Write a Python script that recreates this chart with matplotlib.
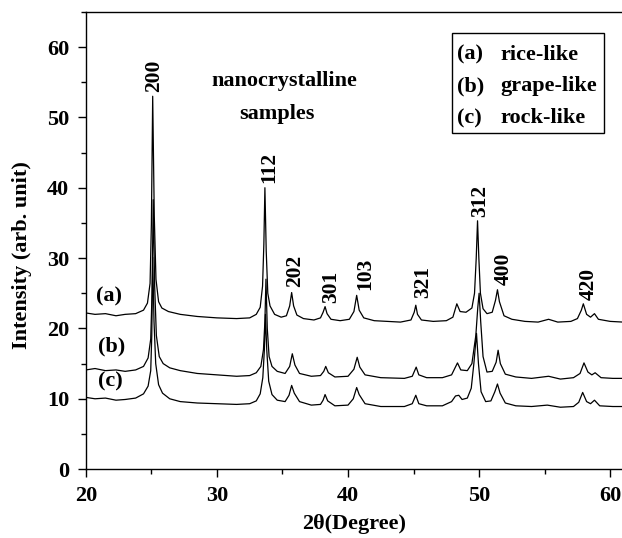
import matplotlib
matplotlib.use('Agg')
import matplotlib.pyplot as plt
from matplotlib.ticker import MultipleLocator
from matplotlib.patches import Rectangle

plt.rcParams['font.family'] = ['Liberation Serif', 'DejaVu Serif']
plt.rcParams['font.weight'] = 'bold'

# curve (a) rice-like
theta_a = [20.0, 20.7, 21.5, 22.3, 23.0, 23.8, 24.4, 24.7, 24.9, 25.0, 25.1, 25.22, 25.35, 25.55, 25.8,
           26.3, 27.2, 28.5, 30.0, 31.5, 32.5, 33.0, 33.3, 33.48, 33.58, 33.66, 33.76, 33.88, 34.05,
           34.4, 34.9, 35.3, 35.55, 35.7, 35.85, 36.1, 36.6, 37.4, 37.9, 38.1, 38.25, 38.4, 38.7,
           39.4, 40.1, 40.45, 40.66, 40.85, 41.2, 42.0, 43.0, 44.0, 44.8, 45.05, 45.17, 45.3, 45.6,
           46.5, 47.5, 48.0, 48.3, 48.55, 49.0, 49.45, 49.65, 49.78, 49.88, 49.98, 50.1, 50.3, 50.6,
           51.0, 51.25, 51.4, 51.55, 51.9, 52.5, 53.5, 54.5, 55.3, 56.0, 57.0, 57.5, 57.8, 57.95,
           58.2, 58.5, 58.8, 59.1, 60.0, 61.0]
int_a = [22.2, 22.0, 22.1, 21.8, 22.0, 22.1, 22.6, 23.6, 26.4, 34.8, 53.0, 36, 27, 23.8, 22.9,
         22.4, 22.0, 21.7, 21.5, 21.4, 21.5, 22.0, 23.0, 26, 32, 40, 31, 25, 23.2,
         22.0, 21.6, 21.8, 23.2, 25.1, 23.2, 21.9, 21.4, 21.2, 21.5, 22.3, 23.1, 22.1, 21.3,
         21.1, 21.3, 22.4, 24.7, 22.6, 21.5, 21.1, 21.0, 20.9, 21.2, 22.3, 23.3, 22.0, 21.2,
         21.0, 21.1, 21.6, 23.5, 22.4, 22.3, 22.9, 25, 30, 35.3, 30, 25, 22.8, 22.1,
         22.3, 24, 25.5, 23.8, 21.8, 21.3, 21.0, 20.9, 21.3, 20.9, 21.0, 21.4, 22.6, 23.5,
         22.0, 21.6, 22.1, 21.3, 21.0, 20.9]

# curve (b) grape-like
theta_b = [20.0, 20.7, 21.5, 22.3, 23.0, 23.8, 24.4, 24.75, 24.95, 25.05, 25.14, 25.25, 25.38, 25.6,
           25.9, 26.4, 27.2, 28.5, 30.0, 31.5, 32.5, 33.0, 33.35, 33.55, 33.66, 33.74, 33.84, 33.98,
           34.2, 34.6, 35.2, 35.55, 35.75, 35.95, 36.3, 37.2, 37.9, 38.15, 38.3, 38.5, 39.0, 40.0,
           40.45, 40.7, 40.9, 41.3, 42.5, 44.3, 44.9, 45.2, 45.4, 46.0, 47.2, 47.9, 48.35, 48.6,
           49.1, 49.45, 49.75, 49.9, 50.0, 50.12, 50.3, 50.6, 51.0, 51.3, 51.45, 51.62, 52.0, 52.8,
           54.0, 55.3, 56.2, 57.2, 57.7, 58.0, 58.3, 58.6, 58.85, 59.3, 60.2, 61.0]
int_b = [14.1, 14.3, 14.0, 14.1, 13.9, 14.1, 14.6, 15.8, 18.5, 25, 38.3, 26, 19, 16,
         15.0, 14.4, 14.0, 13.6, 13.4, 13.2, 13.3, 13.7, 14.6, 17, 21, 27, 20, 16,
         14.6, 13.9, 13.6, 14.6, 16.4, 14.8, 13.6, 13.2, 13.3, 13.9, 14.6, 13.7, 13.1, 13.2,
         14.2, 15.9, 14.5, 13.4, 13.0, 12.9, 13.2, 14.5, 13.4, 13.0, 13.0, 13.4, 15.1, 14.1,
         14.0, 15, 19, 23, 25.0, 21, 16, 13.8, 13.9, 15.2, 16.9, 15, 13.5, 13.1,
         12.9, 13.2, 12.8, 13.0, 13.6, 15.1, 13.8, 13.4, 13.7, 13.0, 12.9, 12.9]

# curve (c) rock-like
theta_c = [20.0, 20.7, 21.5, 22.3, 23.0, 23.8, 24.4, 24.75, 24.95, 25.03, 25.1, 25.2, 25.33, 25.55,
           25.85, 26.4, 27.2, 28.5, 30.0, 31.5, 32.5, 33.0, 33.3, 33.5, 33.62, 33.7, 33.8, 33.95,
           34.2, 34.6, 35.2, 35.5, 35.7, 35.9, 36.3, 37.2, 37.9, 38.1, 38.25, 38.45, 39.0, 40.0,
           40.4, 40.66, 40.85, 41.3, 42.5, 44.3, 44.9, 45.17, 45.4, 46.0, 47.2, 47.9, 48.2, 48.45,
           48.7, 49.1, 49.4, 49.6, 49.8, 49.95, 50.15, 50.5, 50.9, 51.2, 51.4, 51.6, 52.0, 52.8,
           54.0, 55.2, 56.2, 57.2, 57.6, 57.9, 58.2, 58.5, 58.8, 59.2, 60.2, 61.0]
int_c = [10.2, 10.0, 10.1, 9.8, 9.9, 10.1, 10.7, 11.8, 14, 19, 30.1, 21, 15, 12,
         10.8, 10.0, 9.6, 9.4, 9.3, 9.2, 9.3, 9.7, 10.7, 13, 17, 22, 17, 12.5,
         10.6, 9.8, 9.6, 10.5, 11.9, 10.8, 9.6, 9.1, 9.2, 9.8, 10.6, 9.7, 9.0, 9.1,
         10.0, 11.6, 10.6, 9.3, 8.9, 8.9, 9.3, 10.5, 9.3, 9.0, 9.0, 9.6, 10.4, 10.5,
         9.9, 10.1, 11.5, 15, 19.3, 15, 11, 9.6, 9.7, 11.0, 12.1, 10.8, 9.4, 9.0,
         8.9, 9.1, 8.8, 8.9, 9.5, 10.9, 9.6, 9.3, 9.8, 9.0, 8.9, 8.9]

# peak labels (hkl)
hkl = ['200', '112', '202', '301', '103', '321', '312', '400', '420']
hkl_x = [25.2, 34.0, 36.0, 38.7, 41.35, 45.75, 50.05, 51.85, 58.4]
hkl_y = [53.6, 40.7, 25.9, 23.6, 25.5, 24.3, 35.9, 26.2, 24.0]

samples = ['(a)', '(b)', '(c)']
sample_names = ['rice-like', 'grape-like', 'rock-like']

fig = plt.figure(figsize=(6.22, 5.38), dpi=100)
ax = fig.add_axes([0.138, 0.128, 0.862, 0.85])

for th, it in [(theta_a, int_a), (theta_b, int_b), (theta_c, int_c)]:
    ax.plot(th, it, color='black', lw=0.9)

for lab, x, y in zip(hkl, hkl_x, hkl_y):
    ax.text(x, y, lab, rotation=90, ha='center', va='bottom', fontsize=15.5, fontweight='bold')

for lab, x, y in zip(samples, [21.76, 21.98, 21.9], [24.5, 17.4, 12.4]):
    ax.text(x, y, lab, ha='center', va='center', fontsize=16, fontweight='bold')

ax.text(35.15, 55.2, 'nanocrystalline', ha='center', va='center', fontsize=16, fontweight='bold')
ax.text(34.6, 50.5, 'samples', ha='center', va='center', fontsize=16, fontweight='bold')

# legend box
ax.add_patch(Rectangle((47.94, 47.8), 11.6, 14.2, fc='white', ec='black', lw=1.0, zorder=3))
for i, (s, n) in enumerate(zip(samples, sample_names)):
    yy = 58.9 - 4.5 * i
    ax.text(48.32, yy, s, ha='left', va='center', fontsize=16, fontweight='bold', zorder=4)
    ax.text(51.6, yy, n, ha='left', va='center', fontsize=16, fontweight='bold', zorder=4)

ax.set_xlim(20, 60.9)
ax.set_ylim(0, 65)
ax.xaxis.set_major_locator(MultipleLocator(10))
ax.xaxis.set_minor_locator(MultipleLocator(5))
ax.yaxis.set_minor_locator(MultipleLocator(5))
ax.set_yticks([0, 10, 20, 30, 40, 50, 60])
ax.tick_params(which='major', direction='out', length=6, width=1, labelsize=16)
ax.tick_params(axis='y', which='major', pad=6)
ax.tick_params(axis='x', which='major', pad=6)
ax.tick_params(which='minor', direction='out', length=3.5, width=1)
for t in ax.get_xticklabels() + ax.get_yticklabels():
    t.set_fontweight('bold')

ax.spines['right'].set_visible(False)
for s in ['left', 'bottom', 'top']:
    ax.spines[s].set_linewidth(1.0)

ax.set_xlabel('2θ(Degree)', fontsize=16, fontweight='bold', labelpad=6)
ax.set_ylabel('Intensity (arb. unit)', fontsize=16, fontweight='bold')
ax.yaxis.set_label_coords(-0.10, 0.468)

fig.savefig('out.png', dpi=100)
